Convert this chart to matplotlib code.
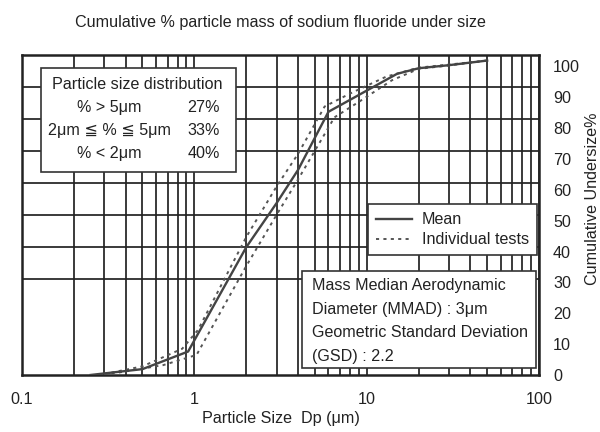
"""
Cumulative undersize curve for sodium fluoride (cascade impactor tests).

Log-scaled particle size on x, cumulative % undersize on the right axis.
"""

import matplotlib
matplotlib.use('Agg')
import matplotlib.pyplot as plt
from matplotlib.patches import Rectangle
from matplotlib.ticker import FixedLocator, NullFormatter

plt.rcParams['font.family'] = ['Liberation Sans', 'DejaVu Sans']

# --- data --------------------------------------------------------------
mean_size = [0.25, 0.5, 0.92, 2.0, 3.0, 4.0, 6.0, 15, 20, 30, 50]
mean_pct = [0.0, 1.9, 7.6, 41.4, 55.7, 66.5, 85.3, 97.6, 99.4, 100.4, 101.9]

upper_size = [0.3, 0.5, 0.85, 1.05, 2.0, 3.0, 4.0, 5.7, 8.0, 13, 20, 30, 50]
upper_pct = [0.3, 2.8, 8.5, 14.6, 44.7, 61.1, 71.7, 87.0, 91.2, 96.7, 99.6, 100.6, 101.9]

lower_size = [0.3, 0.66, 1.03, 2.0, 3.0, 4.0, 6.5, 9.0, 14, 20, 30, 50]
lower_pct = [0.0, 3.2, 6.5, 35.3, 51.9, 63.4, 83.5, 88.5, 95.5, 99.2, 100.3, 101.9]

x_ticks = [0.1, 1, 10, 100]
x_tick_labels = ['0.1', '1', '10', '100']
y_ticks = [0, 10, 20, 30, 40, 50, 60, 70, 80, 90, 100]
# the graph paper lines don't sit on the printed labels
paper_lines = [31.1, 41.5, 51.9, 62.2, 72.6, 83.0, 93.4]

dist_rows = ['% > 5μm', '2μm ≦ % ≦ 5μm', '% < 2μm']
dist_vals = ['27%', '33%', '40%']
mmad_lines = ['Mass Median Aerodynamic',
              'Diameter (MMAD) : 3μm',
              'Geometric Standard Deviation',
              '(GSD) : 2.2']

INK = '#222222'
FS = 11.6

fig = plt.figure(figsize=(6, 4.32), dpi=100)
ax = fig.add_axes([0.0367, 0.132, 0.8617, 0.7407])

ax.set_xscale('log')
ax.set_xlim(0.1, 100)
ax.set_ylim(0, 103.7)

mean_line, = ax.plot(mean_size, mean_pct, color='#444444', lw=1.7, zorder=4)
ax.plot(upper_size, upper_pct, color='#555555', lw=1.4, ls=(0, (1.6, 2.2)), zorder=3)
test_line, = ax.plot(lower_size, lower_pct, color='#555555', lw=1.4,
                     ls=(0, (1.6, 2.2)), zorder=3)

# axes / graph paper
ax.set_xticks(x_ticks)
ax.set_xticklabels(x_tick_labels)
ax.xaxis.set_minor_locator(FixedLocator(
    [m * d for d in (0.1, 1, 10) for m in range(2, 10)]))
ax.xaxis.set_minor_formatter(NullFormatter())
ax.set_yticks(y_ticks)
ax.yaxis.set_minor_locator(FixedLocator(paper_lines))
ax.yaxis.tick_right()
ax.tick_params(which='both', length=0, labelsize=FS, colors=INK)
ax.tick_params(axis='x', pad=12)
ax.tick_params(axis='y', pad=10)
ax.xaxis.grid(True, which='both', color=INK, lw=1.25)
ax.yaxis.grid(True, which='minor', color=INK, lw=1.25)
ax.yaxis.grid(False, which='major')
for sp in ax.spines.values():
    sp.set_color(INK)
    sp.set_linewidth(1.8)

# particle size distribution box
ax.add_patch(Rectangle((0.0368, 0.633), 0.377, 0.327, transform=ax.transAxes,
                       facecolor='white', edgecolor='#333333', lw=1.2, zorder=5))
ax.text(0.222, 0.908, 'Particle size distribution', transform=ax.transAxes,
        ha='center', va='center', fontsize=FS, color=INK, zorder=6)
for i, (row, val) in enumerate(zip(dist_rows, dist_vals)):
    yy = 0.835 - i * 0.071
    ax.text(0.169, yy, row, transform=ax.transAxes, ha='center', va='center',
            fontsize=FS, color=INK, zorder=6)
    ax.text(0.383, yy, val, transform=ax.transAxes, ha='right', va='center',
            fontsize=FS, color=INK, zorder=6)

# MMAD / GSD box
ax.add_patch(Rectangle((0.541, 0.021), 0.453, 0.304, transform=ax.transAxes,
                       facecolor='white', edgecolor='#333333', lw=1.2, zorder=5))
for i, line in enumerate(mmad_lines):
    ax.text(0.561, 0.280 - i * 0.074, line, transform=ax.transAxes,
            ha='left', va='center', fontsize=FS, color=INK, zorder=6)

leg = ax.legend([mean_line, test_line], ['Mean', 'Individual tests'],
                loc='upper right', bbox_to_anchor=(0.9955, 0.533), fontsize=FS,
                fancybox=False, framealpha=1, edgecolor='#333333',
                handlelength=2.2, handletextpad=0.6, borderpad=0.5,
                labelspacing=0.3, borderaxespad=0)
leg.get_frame().set_linewidth(1.2)
leg.set_zorder(7)
for t in leg.get_texts():
    t.set_color(INK)

fig.text(0.4675, 0.947, 'Cumulative % particle mass of sodium fluoride under size',
         ha='center', va='center', fontsize=FS, color=INK)
fig.text(0.4675, 0.032, 'Particle Size  Dp (μm)', ha='center', va='center',
         fontsize=FS, color=INK)
fig.text(0.987, 0.539, 'Cumulative Undersize%', rotation=90, ha='center',
         va='center', fontsize=FS, color=INK)

fig.savefig('out.png', dpi=100, facecolor='white')
